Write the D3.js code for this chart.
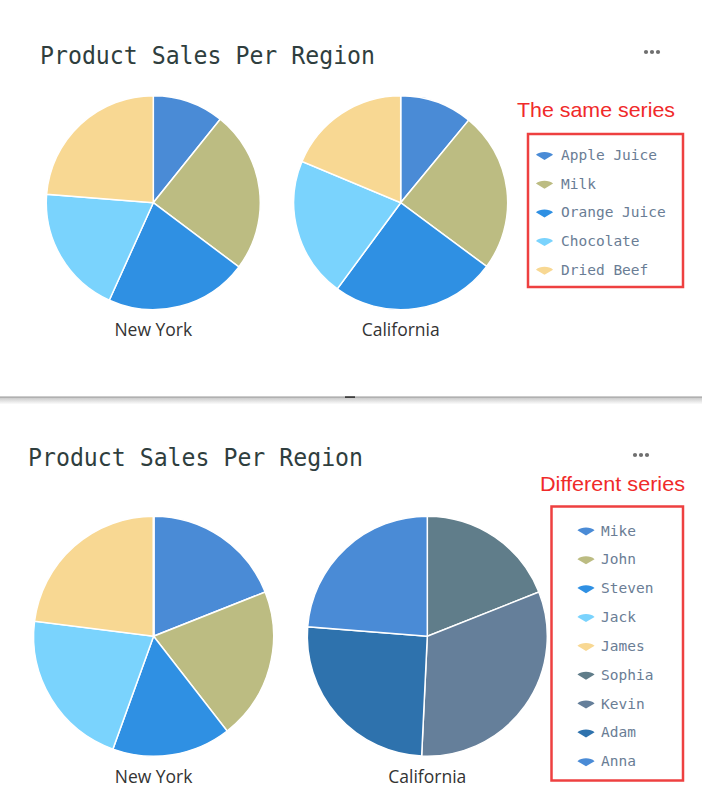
<!DOCTYPE html>
<html>
<head>
<meta charset="utf-8">
<script src="https://cdn.jsdelivr.net/npm/d3@7"></script>
<style>
	body{margin:0;background:#fff;}
	svg{display:block;}
</style>
</head>
<body>
<div id="appbody"></div>
<script>
// data
var products = ["Apple Juice","Milk","Orange Juice","Chocolate","Dried Beef"];
var productColors = ["#4a8bd6","#bcbc82","#2f90e3","#7ad3fd","#f8d893"];
var nyProductSales = [43, 98, 86, 78, 95];
var caProductSales = [44, 97, 100, 85, 75];

var people = ["Mike","John","Steven","Jack","James","Sophia","Kevin","Adam","Anna"];
var peopleColors = ["#4a8bd6","#bcbc82","#2f90e3","#7ad3fd","#f8d893","#607d8a","#657f9a","#2e72ad","#4a8bd6"];
var nyPeopleSales = [76, 82, 64, 86, 92, 0, 0, 0, 0];
var caPeopleSales = [0, 0, 0, 0, 0, 76, 127, 102, 95];

var regions = ["New York","California"];
var chartTitle = "Product Sales Per Region";

var svgwidth = 702;
var svgheight = 810;

var svg = d3.select("#appbody")
	.append("svg")
	.attr("id","svgID")
	.attr("width",svgwidth)
	.attr("height",svgheight);

var defs = svg.append("defs");
var grad = defs.append("linearGradient")
	.attr("id","shadowGrad")
	.attr("x1","0").attr("y1","0").attr("x2","0").attr("y2","1");
grad.append("stop").attr("offset","0").attr("stop-color","#c8c8c8");
grad.append("stop").attr("offset","1").attr("stop-color","#ffffff");

var pie = d3.pie().sort(null).value(function(d){return d;});

function drawPanel(opt){
	var g = svg.append("g").attr("transform","translate(0,"+opt.top+")");

	g.append("text")
		.attr("x",opt.titleX)
		.attr("y",opt.titleY)
		.attr("font-family","DejaVu Sans Mono, monospace")
		.attr("font-size","24px")
		.attr("textLength",335)
		.attr("lengthAdjust","spacingAndGlyphs")
		.attr("fill","#2f3e3e")
		.text(chartTitle);

	// menu dots
	g.selectAll(".dot")
		.data([0,1,2])
		.enter().append("circle")
		.attr("cx",function(d){return opt.dotsX+d*6;})
		.attr("cy",opt.dotsY)
		.attr("r",2.1)
		.attr("fill","#6f6f6f");

	var arc = d3.arc().innerRadius(0).outerRadius(opt.radius);

	opt.sales.forEach(function(vals,i){
		var pg = g.append("g")
			.attr("transform","translate("+opt.centers[i][0]+","+opt.centers[i][1]+")");
		pg.selectAll("path")
			.data(pie(vals))
			.enter().append("path")
			.attr("d",arc)
			.attr("fill",function(d,j){return opt.colors[j];})
			.attr("stroke","#fff")
			.attr("stroke-width",1.5);
		g.append("text")
			.attr("x",opt.centers[i][0])
			.attr("y",opt.labelY)
			.attr("text-anchor","middle")
			.attr("font-family","Open Sans, sans-serif")
			.attr("font-size","17.5px")
			.attr("fill","#333")
			.text(regions[i]);
	});

	// red note and box
	g.append("text")
		.attr("x",opt.noteX)
		.attr("y",opt.noteY)
		.attr("font-family","Liberation Sans, Arial, sans-serif")
		.attr("font-size","21px")
		.attr("textLength",opt.noteW)
		.attr("lengthAdjust","spacingAndGlyphs")
		.attr("fill","#f02a2a")
		.text(opt.note);

	g.append("rect")
		.attr("x",opt.box[0])
		.attr("y",opt.box[1])
		.attr("width",opt.box[2])
		.attr("height",opt.box[3])
		.attr("fill","none")
		.attr("stroke","#ee4040")
		.attr("stroke-width",2.5);

	var marker = d3.arc().innerRadius(0).outerRadius(10)
		.startAngle(-50*Math.PI/180).endAngle(50*Math.PI/180);

	var item = g.selectAll(".legitem")
		.data(opt.names)
		.enter().append("g")
		.attr("transform",function(d,i){return "translate("+opt.legX+","+(opt.legY+i*opt.legStep)+")";});
	item.append("path")
		.attr("d",marker())
		.attr("transform","translate(0,5) scale(1.12,0.8)")
		.attr("fill",function(d,i){return opt.colors[i];});
	item.append("text")
		.attr("x",opt.legTextDX)
		.attr("y",5)
		.attr("font-family","DejaVu Sans Mono, monospace")
		.attr("font-size","14.5px")
		.attr("fill","#6a7d95")
		.text(function(d){return d;});
}

drawPanel({
	top:0, titleX:40, titleY:64, dotsX:646, dotsY:52,
	radius:107, centers:[[153.3,202.7],[400.7,202.7]], labelY:336,
	sales:[nyProductSales, caProductSales], colors:productColors, names:products,
	note:"The same series", noteX:517, noteY:116.5, noteW:158,
	box:[528,134,155,153], legX:544.5, legY:155, legStep:28.7, legTextDX:16.5
});

// divider between the two panels
svg.append("rect").attr("x",0).attr("y",397.5).attr("width",svgwidth).attr("height",7).attr("fill","url(#shadowGrad)");
svg.append("rect").attr("x",0).attr("y",396.5).attr("width",svgwidth).attr("height",1.2).attr("fill","#9a9a9a");
svg.append("rect").attr("x",345).attr("y",396.3).attr("width",10).attr("height",1.6).attr("fill","#333");

drawPanel({
	top:0, titleX:28, titleY:466, dotsX:635, dotsY:455,
	radius:120, centers:[[153.6,636.2],[427.3,636.2]], labelY:783,
	sales:[nyPeopleSales, caPeopleSales], colors:peopleColors, names:people,
	note:"Different series", noteX:540, noteY:490.5, noteW:145,
	box:[551.5,506.5,131.5,274], legX:586, legY:530.5, legStep:28.85, legTextDX:15
});
</script>
</body>
</html>
